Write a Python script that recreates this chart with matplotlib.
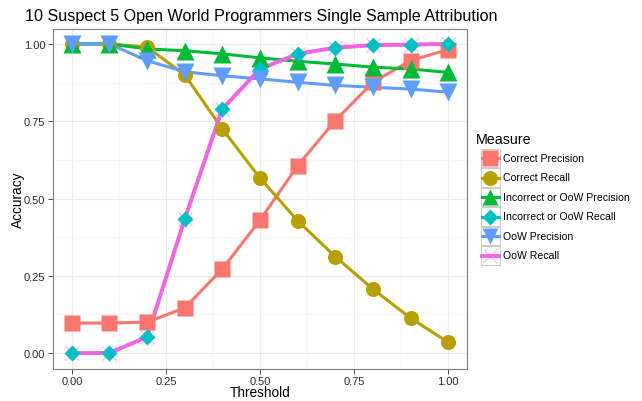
import matplotlib
matplotlib.use("Agg")
import matplotlib.pyplot as plt
from matplotlib.patches import Rectangle
from matplotlib.lines import Line2D

plt.rcParams['font.family'] = ['Liberation Sans', 'DejaVu Sans']

# data
threshold = [0.0, 0.1, 0.2, 0.3, 0.4, 0.5, 0.6, 0.7, 0.8, 0.9, 1.0]
measures = ["Correct Precision", "Correct Recall", "Incorrect or OoW Precision",
            "Incorrect or OoW Recall", "OoW Precision", "OoW Recall"]
correct_precision = [0.097, 0.097, 0.100, 0.146, 0.272, 0.430, 0.606, 0.752, 0.876, 0.946, 0.982]
correct_recall = [1.000, 1.000, 0.990, 0.900, 0.725, 0.566, 0.428, 0.312, 0.207, 0.113, 0.035]
incorrect_precision = [1.000, 1.000, 0.984, 0.978, 0.968, 0.955, 0.944, 0.935, 0.925, 0.919, 0.908]
incorrect_recall = [0.000, 0.000, 0.052, 0.434, 0.790, 0.919, 0.968, 0.988, 0.996, 0.998, 1.000]
oow_precision = [1.000, 1.000, 0.946, 0.910, 0.897, 0.887, 0.876, 0.866, 0.860, 0.854, 0.844]
oow_recall = [0.000, 0.000, 0.052, 0.434, 0.790, 0.919, 0.968, 0.988, 0.996, 0.998, 1.000]

series = [correct_precision, correct_recall, incorrect_precision,
          incorrect_recall, oow_precision, oow_recall]
colors = ["#F8766D", "#B79F00", "#00BA38", "#00BFC4", "#619CFF", "#F564E3"]
markers = ["s", "o", "^", "D", "v", "x"]
msizes = [11.5, 10.8, 13, 8, 13, 10]

fig = plt.figure(figsize=(6.42, 4.02), dpi=100)
ax = fig.add_axes([53 / 642, 1 - 369.5 / 402, 414 / 642, 340 / 402])

# lines first, then points on top (like geom_line + geom_point)
for vals, c in zip(series, colors):
    lw = 2.8 if c == "#F564E3" else 2.2
    ax.plot(threshold, vals, color=c, lw=lw, zorder=3, solid_capstyle='butt')
for i, (vals, c, m, ms) in enumerate(zip(series, colors, markers, msizes)):
    if m == "x":
        ax.plot(threshold, vals, ls='none', marker=m, ms=ms, color=c,
                mew=0.8, alpha=0.5, zorder=3.5)
    else:
        ax.plot(threshold, vals, ls='none', marker=m, ms=ms, color=c,
                mec='none', zorder=4 + i * 0.1)

ax.set_xlim(-0.05, 1.05)
ax.set_ylim(-0.05, 1.05)
ticks = [0, 0.25, 0.5, 0.75, 1.0]
ax.set_xticks(ticks)
ax.set_yticks(ticks)
ax.set_xticklabels(["0.00", "0.25", "0.50", "0.75", "1.00"])
ax.set_yticklabels(["0.00", "0.25", "0.50", "0.75", "1.00"])
ax.set_xticks([0.125, 0.375, 0.625, 0.875], minor=True)
ax.set_yticks([0.125, 0.375, 0.625, 0.875], minor=True)
ax.grid(which='major', color='#EBEBEB', lw=0.8, zorder=0)
ax.grid(which='minor', color='#F5F5F5', lw=0.6, zorder=0)
ax.set_axisbelow(True)
ax.tick_params(which='major', length=3.5, width=0.6, color='#333333',
               labelsize=8, labelcolor='#2B2B2B', pad=2)
ax.tick_params(which='minor', length=0)
for sp in ax.spines.values():
    sp.set_color('#7F7F7F')
    sp.set_linewidth(0.8)

ax.set_xlabel("Threshold", fontsize=9.8, va='center')
ax.xaxis.set_label_coords(0.5, (369.5 - 393) / 340)
ax.set_ylabel("Accuracy", fontsize=9.8, va='center')
ax.yaxis.set_label_coords((18 - 53) / 414, 0.5)
fig.text(25 / 642, 1 - 16 / 402, "10 Suspect 5 Open World Programmers Single Sample Attribution",
         fontsize=11.6, va='center', ha='left')

# legend drawn by hand, ggplot style keys
leg = fig.add_axes([0, 0, 1, 1])
leg.set_xlim(0, 642)
leg.set_ylim(402, 0)
leg.axis('off')
leg.text(476, 140, "Measure", fontsize=10.3, va='center', ha='left')
key = 19.5
for i, (name, c, m, ms) in enumerate(zip(measures, colors, markers, msizes)):
    cy = 159 + i * key
    leg.add_patch(Rectangle((481, cy - key / 2 + 0.5), key - 1, key - 1,
                            facecolor='white', edgecolor='#CCCCCC', lw=0.8))
    lw = 2.8 if c == "#F564E3" else 2.2
    leg.add_line(Line2D([481.5, 499], [cy, cy], color=c, lw=lw))
    kms = min(ms, 12)  # keep key markers inside their box
    if m == "x":
        leg.plot([490.3], [cy], marker=m, ms=kms, color=c, mew=0.8, alpha=0.5)
    else:
        leg.plot([490.3], [cy], marker=m, ms=kms, color=c, mec='none')
    leg.text(503, cy, name, fontsize=7.6, va='center', ha='left')

fig.savefig("out.png", dpi=100)
